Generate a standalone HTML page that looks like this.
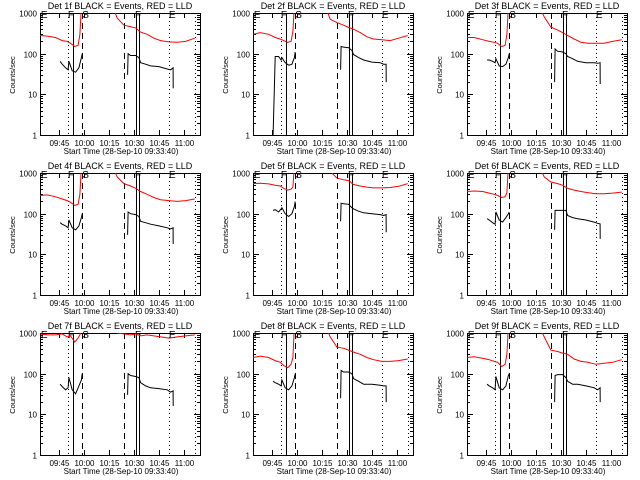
<!DOCTYPE html>
<html><head><meta charset="utf-8"><style>
html,body{margin:0;padding:0;background:#fff;}
svg{display:block;font-family:"Liberation Sans",sans-serif;}
</style></head><body>
<svg id="fig" width="640" height="480" viewBox="0 0 640 480"></svg>
<script>
// shared time coordinates (minutes after 09:00)
const redAT = [33.7, 38, 43, 47, 50, 52, 54.5, 56.5, 57.6, 58.5];
const redBT = [77, 80, 84, 88, 91, 94, 98, 102, 106, 111, 116, 121, 126.5];
const blkAT = [45.7, 47, 49, 50.5, 51, 53, 55, 57, 58.5, 59];
const blkBT = [86.2, 86.5, 88, 91, 93, 94, 97, 100, 105, 110, 112, 113.5, 113.6];
const tickTimes = [45, 60, 75, 90, 105, 120];
const tickLabels = ["09:45","10:00","10:15","10:30","10:45","11:00"];
const yTicks = [1, 10, 100, 1000];
const yTickLabels = ["1","10","100","1000"];
const markerTimes = [50.7, 53.7, 58.7, 84.1, 91.3, 93.3, 111.3, 126.9];
const markerStyles = ["dot","solid","dash","dash","solid","solid","dot","dot"];
const markerLetters = ["E","F","S","F","E"];
const markerLetterTimes = [36.2, 52.2, 61, 92.5, 113];
const detNames = ["1f","2f","3f","4f","5f","6f","7f","8f","9f"];
const redA = [
 [280,270,250,210,200,180,150,160,300,1500],
 [300,330,300,250,230,210,190,200,350,1500],
 [250,250,220,200,190,180,150,160,300,1500],
 [280,290,260,230,210,190,160,170,300,1500],
 [550,560,540,500,480,420,380,400,450,1500],
 [350,360,350,320,300,280,250,260,330,1500],
 [950,900,900,950,800,850,600,750,900,1100],
 [250,270,250,210,190,160,140,170,250,1500],
 [250,260,240,220,200,190,150,170,300,1500]];
const redB = [
 [1500,750,500,460,430,340,300,240,210,195,190,200,240],
 [1500,700,580,500,440,400,330,260,230,220,210,240,280],
 [1500,800,450,380,330,280,230,190,180,180,180,200,220],
 [1500,800,550,480,420,350,300,250,220,210,200,210,230],
 [1500,1100,750,680,650,520,480,450,430,430,440,470,550],
 [1500,800,600,550,500,420,380,350,330,310,310,320,340],
 [1100,1000,950,900,950,850,900,850,800,750,800,850,900],
 [1500,800,450,420,380,340,300,250,220,200,200,210,230],
 [1500,800,380,350,320,300,230,200,190,170,180,190,220]];
const blkA = [
 [65,55,45,40,65,38,35,45,80,100],
 [1,85,85,70,80,60,52,55,80,110],
 [70,70,65,60,75,50,48,55,80,100],
 [60,55,50,45,70,45,40,50,80,100],
 [120,125,110,130,140,100,85,100,150,200],
 [75,70,60,55,110,70,62,80,100,110],
 [55,48,40,45,80,40,32,50,70,100],
 [65,60,55,50,70,45,40,50,80,100],
 [55,50,45,40,85,45,40,50,90,100]];
const blkB = [
 [30,100,90,90,80,60,55,50,48,42,40,45,14],
 [40,150,145,140,120,95,80,70,62,60,55,55,20],
 [20,130,115,110,100,85,75,65,60,60,58,60,18],
 [30,110,100,95,85,65,60,55,50,45,42,45,18],
 [65,180,175,170,140,130,115,105,100,95,90,95,35],
 [40,120,120,120,120,90,80,75,70,62,58,56,24],
 [30,100,90,85,80,60,50,45,43,40,35,38,16],
 [25,120,110,110,100,75,65,55,55,52,50,50,20],
 [20,90,95,95,80,65,55,55,50,45,40,45,20]];

const NS = "http://www.w3.org/2000/svg";
const svg = document.getElementById("fig");
const PX0 = 40, PX1 = 200, PY0 = 13, PY1 = 135;
const T0 = 33.667, T1 = 129.667;
function xs(t){ return PX0 + (t - T0) * (PX1 - PX0) / (T1 - T0); }
function ys(v){ return PY1 - (Math.log10(v) - 0) * (PY1 - PY0) / 3; }
function mk(tag, attrs, parent){
  const e = document.createElementNS(NS, tag);
  for (const k in attrs) e.setAttribute(k, attrs[k]);
  parent.appendChild(e);
  return e;
}
const defs = mk("defs", {}, svg);
const cp = mk("clipPath", {id: "plotclip"}, defs);
mk("rect", {x: PX0, y: PY0, width: PX1 - PX0, height: PY1 - PY0}, cp);

for (let p = 0; p < 9; p++) {
  const col = p % 3, row = Math.floor(p / 3);
  const g = mk("g", {transform: "translate(" + Math.round(col * 213.333) + "," + (row * 160) + ")"}, svg);
  
  
  const title = mk("text", {x: 120, y: 9, "font-size": 9, "text-anchor": "middle", fill: "#000"}, g);
  title.textContent = "Det " + detNames[p] + " BLACK = Events, RED = LLD";
  
  
  const frame = mk("rect", {x: PX0 + 0.5, y: PY0 + 0.5, width: PX1 - PX0, height: PY1 - PY0, fill: "none", stroke: "#000", "stroke-width": 1}, g);
  
  
  for (let d = 0; d < 3; d++) {
    for (let m = 2; m <= 9; m++) {
      const y = Math.round(ys(m * Math.pow(10, d))) + 0.5;
      mk("line", {x1: PX0, x2: PX0 + 3, y1: y, y2: y, stroke: "#000", "stroke-width": 1}, g);
      mk("line", {x1: PX1 - 3, x2: PX1, y1: y, y2: y, stroke: "#000", "stroke-width": 1}, g);
    }
  }
  yTicks.forEach((v, i) => {
    const y = Math.round(ys(v)) + 0.5;
    mk("line", {x1: PX0, x2: PX0 + 6, y1: y, y2: y, stroke: "#000"}, g);
    mk("line", {x1: PX1 - 6, x2: PX1, y1: y, y2: y, stroke: "#000"}, g);
    const t = mk("text", {x: 37, y: y + 3, "font-size": 8, "text-anchor": "end"}, g);
    t.textContent = yTickLabels[i];
    
    
  });
  tickTimes.forEach((tm, i) => {
    const x = Math.round(xs(tm)) + 0.5;
    mk("line", {x1: x, x2: x, y1: PY1, y2: PY1 - 5, stroke: "#000"}, g);
    mk("line", {x1: x, x2: x, y1: PY0, y2: PY0 + 5, stroke: "#000"}, g);
    const t = mk("text", {x: x, y: 146, "font-size": 8, "text-anchor": "middle"}, g);
    t.textContent = tickLabels[i];
    
    
  });
  const xt = mk("text", {x: 121, y: 154, "font-size": 8, "text-anchor": "middle"}, g);
  xt.textContent = "Start Time (28-Sep-10 09:33:40)";
  
  
  const yt = mk("text", {x: 0, y: 0, "font-size": 7.5, "text-anchor": "middle", transform: "translate(15,75) rotate(-90)"}, g);
  yt.textContent = "Counts/sec";
  
  
  markerTimes.forEach((tm, i) => {
    const x = Math.round(xs(tm)) + 0.5;
    const st = markerStyles[i];
    const a = {x1: x, x2: x, y1: PY0, y2: PY1, stroke: "#000", "stroke-width": 1};
    if (st === "dot") a["stroke-dasharray"] = "1,3";
    if (st === "dash") a["stroke-dasharray"] = "6,4";
    const l = mk("line", a, g);
    
    
  });
  markerLetters.forEach((ch, i) => {
    const t = mk("text", {x: xs(markerLetterTimes[i]), y: 18, "font-size": 10, "text-anchor": "middle"}, g);
    t.textContent = ch;
    
    
  });
  const cg = mk("g", {"clip-path": "url(#plotclip)"}, g);
  function series(ts, vs, color, name){
    const pts = ts.map((t, i) => xs(t).toFixed(1) + "," + ys(vs[i]).toFixed(1)).join(" ");
    const pl = mk("polyline", {points: pts, fill: "none", stroke: color, "stroke-width": 1}, cg);
    
    
  }
  series(redAT, redA[p], "#ff0000", "lld-series-early");
  series(redBT, redB[p], "#ff0000", "lld-series-late");
  series(blkAT, blkA[p], "#000000", "events-series-early");
  series(blkBT, blkB[p], "#000000", "events-series-late");
}
</script>
</body></html>
